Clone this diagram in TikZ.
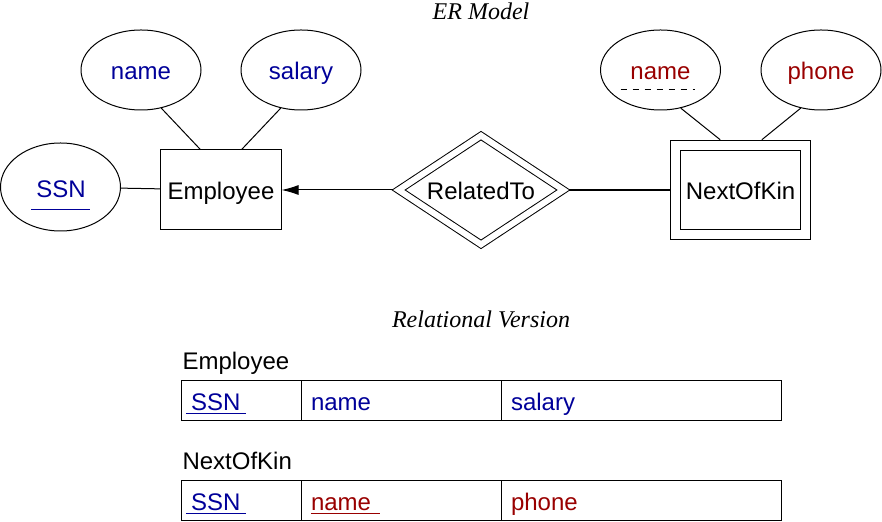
\documentclass[tikz,border=0pt]{standalone}
\usepackage{fontspec}
\setmainfont{Liberation Sans}
\newfontfamily\capfont{Liberation Serif}
\usetikzlibrary{shapes.geometric,arrows.meta,positioning}
\definecolor{attblue}{RGB}{0,0,153}
\definecolor{attred}{RGB}{153,0,0}
\newcommand{\pkey}[1]{\kern-2.5pt\underline{\kern2.5pt #1\kern3pt}}
\newcommand{\partkey}[1]{\underline{#1\kern4.5pt}}

\begin{document}
\begin{tikzpicture}[x=0.5pt, y=-0.5pt, >={Latex[length=8.5pt,width=5pt]}, line width=0.5pt,
	every node/.style={font=\fontsize{12}{14}\selectfont, text height=11pt, text depth=1pt}]
	\tikzstyle{attr}=[ellipse, draw, minimum width=60pt, minimum height=40pt, inner sep=0pt]
	\tikzstyle{entity}=[rectangle, draw, minimum width=60pt, minimum height=40pt]
	\tikzstyle{weak}=[entity, double, double distance=4.5pt, minimum width=64.75pt, minimum height=44.75pt, outer sep=2.75pt]
	\tikzstyle{rel}=[diamond, draw, double, double distance=3pt, aspect=1.5, minimum width=84pt, minimum height=56pt, inner sep=0pt, outer sep=2pt]
	\tikzstyle{cell}=[rectangle, draw, minimum height=20pt, inner xsep=5pt, outer sep=0pt, align=left, anchor=west]
	\tikzstyle{caption}=[font=\capfont\itshape\fontsize{12}{14}\selectfont, anchor=base]
	\tikzstyle{tname}=[anchor=base west, inner sep=0pt]
	\useasboundingbox (0,0) rectangle (882,522);

	\node[caption]  (er)     at (481,20)   {ER Model};
	\node[entity]   (emp)    at (221,190)  {Employee};
	\node[attr, text=attblue]  (e-name) at (141,70)  {name};
	\node[attr, text=attblue]  (e-sal)  at (301,70)  {salary};
	\node[attr, text=attblue, minimum height=44pt, text height=12pt] (e-ssn) at (60.5,187)
		{\underline{\kern2.5pt SSN\kern2pt\rule[-4.2pt]{0pt}{4.2pt}}};
	\node[rel]      (rel)    at (481,190)  {RelatedTo};
	\node[weak]     (nok)    at (740.5,190) {NextOfKin};
	\node[attr, text=attred]   (k-name) at (660.5,70) {name};
	\node[attr, text=attred]   (k-ph)   at (821,70)   {phone};
	\draw[dashed, dash pattern=on 3pt off 3pt] ([shift={(-40,20)}]k-name.center) -- ([shift={(34,20)}]k-name.center);

	\path
	(e-name.-62)	edge 			(emp.117)
	(e-sal.-118)	edge 			(emp.63)
	(e-ssn)		edge 			(emp)
	(rel)		edge[->] 		(emp)
	(rel)		edge[line width=1pt] 	(nok)
	(k-name.-62)	edge 			(nok.112)
	(k-ph.-118)	edge 			(nok.67);

	\node[caption]  (rv)     at (481,328)  {Relational Version};
	\node[tname] (t1) at (182,370) {Employee};
	\node[cell, text width=50pt, text=attblue]  (t1-ssn)  at (181,400.5) {\pkey{SSN}};
	\node[cell, text width=90pt, text=attblue]  (t1-name) [right=0pt of t1-ssn]  {name};
	\node[cell, text width=130pt, text=attblue] (t1-sal)  [right=0pt of t1-name] {salary};

	\node[tname] (t2) at (182,470) {NextOfKin};
	\node[cell, text width=50pt, text=attblue]  (t2-ssn)  at (181,500.5) {\pkey{SSN}};
	\node[cell, text width=90pt, text=attred]   (t2-name) [right=0pt of t2-ssn]  {\partkey{name}};
	\node[cell, text width=130pt, text=attred]  (t2-ph)   [right=0pt of t2-name] {phone};
\end{tikzpicture}
\end{document}
